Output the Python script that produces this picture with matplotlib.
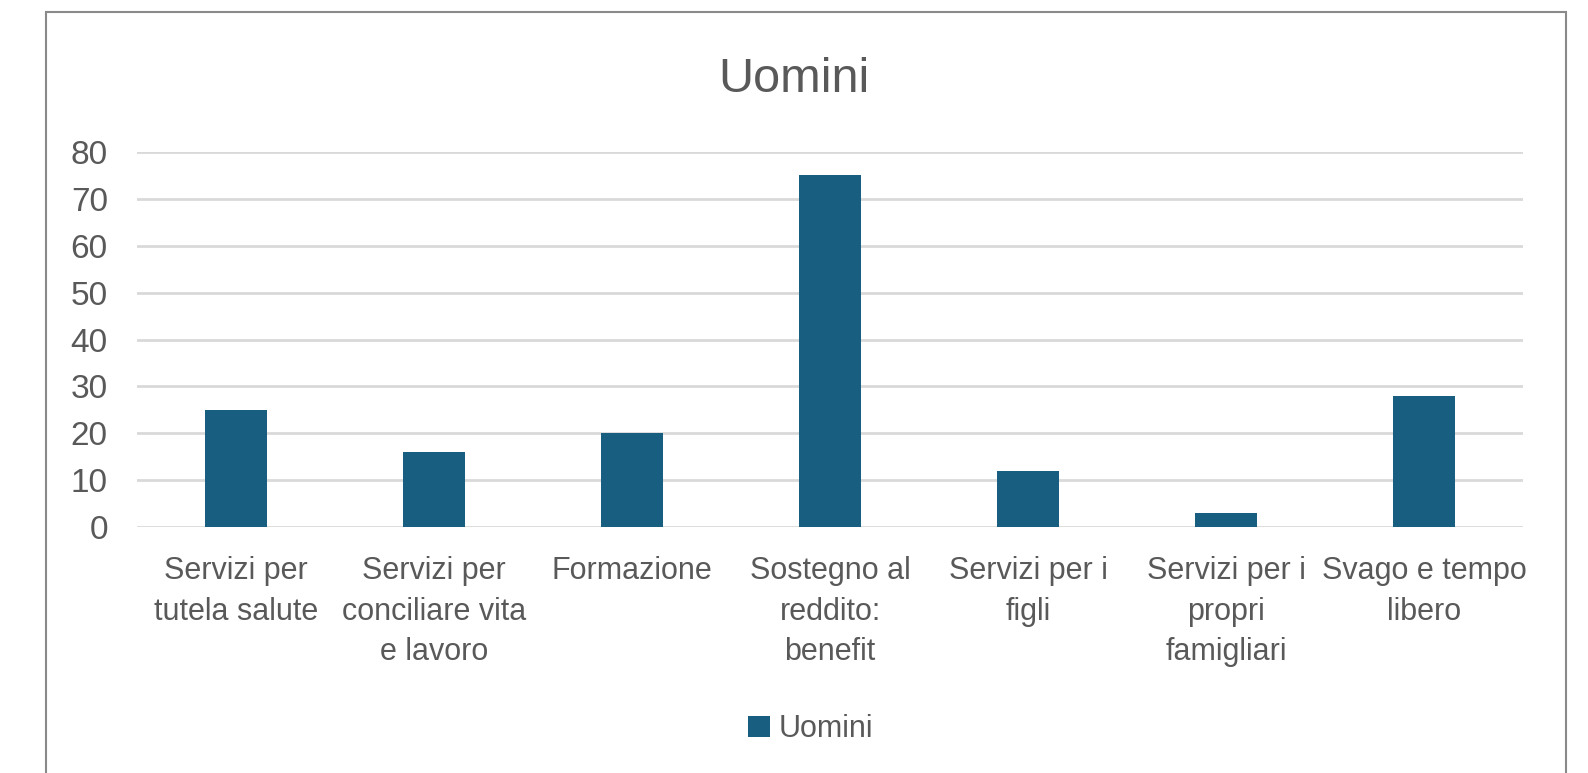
import matplotlib
matplotlib.use("Agg")
import matplotlib.pyplot as plt
from matplotlib.patches import Rectangle

categories = [
    "Servizi per\ntutela salute",
    "Servizi per\nconciliare vita\ne lavoro",
    "Formazione",
    "Sostegno al\nreddito:\nbenefit",
    "Servizi per i\nfigli",
    "Servizi per i\npropri\nfamigliari",
    "Svago e tempo\nlibero",
]
uomini = [25, 16, 20, 75, 12, 3, 28]
yticks = [0, 10, 20, 30, 40, 50, 60, 70, 80]

BAR = "#175e80"
TEXT = "#595959"
GRID = "#d9d9d9"

plt.rcParams["font.family"] = ["Liberation Sans", "DejaVu Sans"]

W, H = 1588, 773
fig = plt.figure(figsize=(W / 100, H / 100), dpi=100)
fig.patch.set_facecolor("white")

# outer chart frame (bottom edge runs off the image)
fig.patches.append(Rectangle((46 / W, -0.05), (1566 - 46) / W, 1.05 - 12.5 / H,
                             transform=fig.transFigure, fill=False,
                             edgecolor="#8a8a8a", lw=1.5))

ax = fig.add_axes([137 / W, 1 - 527 / H, (1523 - 137) / W, (527 - 152) / H])
x = range(len(categories))
ax.bar(x, uomini, width=0.315, color=BAR, label="Uomini", zorder=3)
ax.set_xlim(-0.5, len(categories) - 0.5)
ax.set_ylim(0, 80)
ax.set_yticks(yticks)
ax.set_xticks(list(x))
ax.set_xticklabels(categories, fontsize=22, color=TEXT, linespacing=1.45)
ax.tick_params(axis="y", labelsize=24, colors=TEXT, length=0, pad=21)
ax.tick_params(axis="x", length=0, pad=21)
ax.yaxis.grid(True, color=GRID, lw=2, zorder=0)
for s in ax.spines.values():
    s.set_visible(False)

fig.text(0.5, 1 - 79 / H, "Uomini", ha="center", va="center",
         fontsize=35, color=TEXT)
fig.legend(loc="center", bbox_to_anchor=(811 / W, 1 - 729 / H), frameon=False,
           fontsize=22, labelcolor=TEXT, handlelength=0.7, handleheight=0.7,
           handletextpad=0.3)

fig.savefig("out.png", dpi=100)
